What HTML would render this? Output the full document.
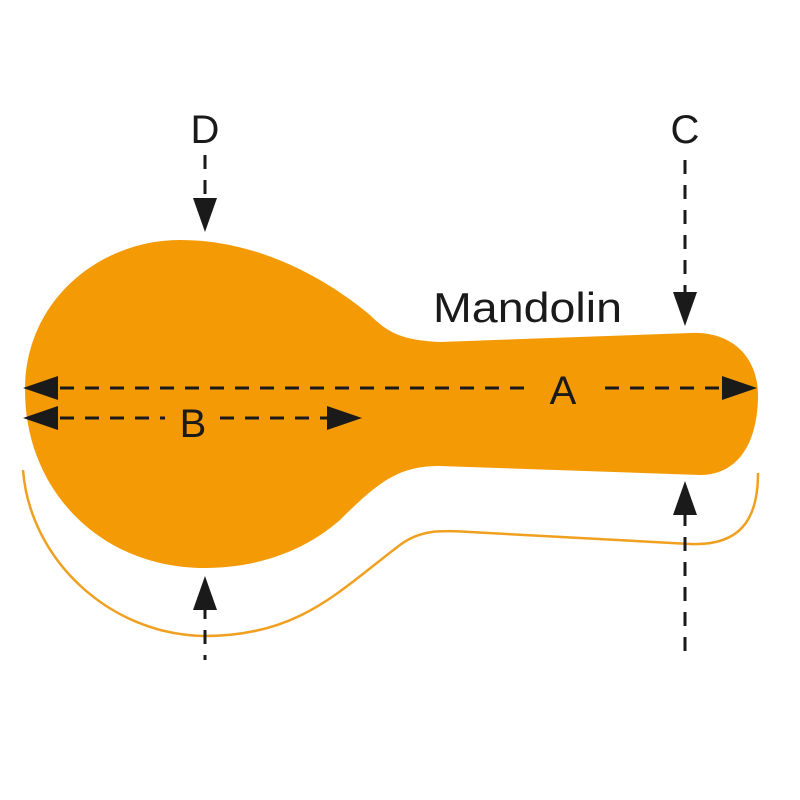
<!DOCTYPE html>
<html><head><style>html,body{margin:0;padding:0;background:#fff}svg{display:block}</style></head><body>
<svg width="800" height="800" viewBox="0 0 800 800" xmlns="http://www.w3.org/2000/svg">
<path d="M25,390 C25,300 100,240 180,240 C270,240 340,290 370,315 C390,335 405,340 440,342 L690,333 C735,331 758,360 758,395 C758,440 740,475 700,475 L440,466 C400,466 380,480 340,520 C300,555 250,568 205,568 C100,568 25,490 25,390 Z" fill="#f39a05"/>
<path d="M23,470 C30,560 110,635 205,636 C300,636 340,590 400,545 C420,530 440,530 470,532 L690,544 C740,546 758,520 758,473" fill="none" stroke="#f0a020" stroke-width="2.5"/>
<g stroke="#1a1a1a" stroke-width="3" stroke-dasharray="14,11" fill="none">
<line x1="60" y1="388" x2="530" y2="388"/>
<line x1="605" y1="388" x2="720" y2="388"/>
<line x1="60" y1="418" x2="165" y2="418"/>
<line x1="220" y1="418" x2="330" y2="418"/>
<line x1="205" y1="155" x2="205" y2="200"/>
<line x1="685" y1="160" x2="685" y2="295"/>
<line x1="205" y1="605" x2="205" y2="660"/>
<line x1="685" y1="512" x2="685" y2="660"/>
</g>
<g fill="#1a1a1a">
<polygon points="23,388 58,376 58,400"/>
<polygon points="23,418 58,406 58,430"/>
<polygon points="757,388 722,376 722,400"/>
<polygon points="362,418 327,406 327,430"/>
<polygon points="205,232 193,198 217,198"/>
<polygon points="685,326 673,292 697,292"/>
<polygon points="205,576 193,610 217,610"/>
<polygon points="685,481 673,515 697,515"/>
</g>
<g font-family="Liberation Sans, sans-serif" fill="#1a1a1a" text-anchor="middle">
<text x="205" y="143" font-size="40">D</text>
<text x="685" y="143" font-size="40">C</text>
<text x="563" y="404" font-size="40">A</text>
<text x="193" y="437" font-size="40">B</text>
<text x="433" y="322" font-size="42" text-anchor="start" textLength="189" lengthAdjust="spacingAndGlyphs">Mandolin</text>
</g>
</svg>
</body></html>
